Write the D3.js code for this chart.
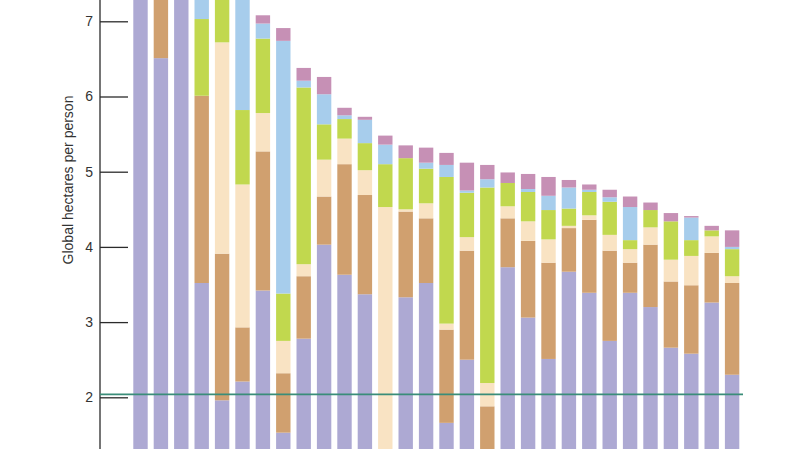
<!DOCTYPE html>
<html>
<head>
<meta charset="utf-8">
<script src="https://cdn.jsdelivr.net/npm/d3@7"></script>
<style>
  body { margin: 0; background: #fff; }
  svg { display: block; }
  text { font-family: "Liberation Sans", Arial, sans-serif; fill: #333; }
</style>
</head>
<body>
<div id="chart"></div>
<script>
var svgWidth = 800;
var svgHeight = 449;

// one entry per bar (labels are cut off in the picture)
var bars = d3.range(1, 31);

// thickness of each layer, bottom to top, in global hectares per person
var carbon   = [7.6, 6.51, 7.5, 3.52, 1.96, 2.21, 3.42, 1.53, 2.78, 4.03, 3.63, 3.37, 1.0, 3.33, 3.52,
                1.66, 2.50, 1.0, 3.73, 3.06, 2.51, 3.67, 3.39, 2.75, 3.39, 3.20, 2.66, 2.58, 3.26, 2.30];
var cropland = [0.5, 1.0, 0.4, 2.49, 1.95, 0.72, 1.85, 0.79, 0.83, 0.64, 1.47, 1.32, 0.2, 1.14, 0.86,
                1.24, 1.45, 0.88, 0.65, 1.02, 1.28, 0.58, 0.97, 1.20, 0.40, 0.83, 0.88, 0.91, 0.66, 1.22];
var grazing  = [0.3, 0.3, 0.2, 0.0, 2.81, 1.90, 0.51, 0.43, 0.16, 0.49, 0.34, 0.33, 3.33, 0.03, 0.20,
                0.08, 0.18, 0.31, 0.16, 0.26, 0.31, 0.03, 0.06, 0.21, 0.18, 0.23, 0.29, 0.39, 0.22, 0.09];
var forest   = [0.4, 0.4, 0.3, 1.02, 0.8, 0.99, 0.99, 0.63, 2.35, 0.47, 0.26, 0.36, 0.57, 0.68, 0.46,
                1.95, 0.59, 2.60, 0.31, 0.39, 0.39, 0.23, 0.31, 0.44, 0.12, 0.23, 0.51, 0.21, 0.08, 0.36];
var fishing  = [0.3, 0.3, 0.3, 0.5, 0.3, 1.7, 0.20, 3.36, 0.09, 0.40, 0.05, 0.31, 0.26, 0.0, 0.08,
                0.16, 0.03, 0.11, 0.0, 0.04, 0.19, 0.28, 0.03, 0.06, 0.44, 0.0, 0.0, 0.30, 0.0, 0.03];
var builtUp  = [0.3, 0.3, 0.2, 0.2, 0.2, 0.2, 0.11, 0.17, 0.17, 0.23, 0.10, 0.04, 0.12, 0.17, 0.20,
                0.16, 0.37, 0.19, 0.14, 0.20, 0.25, 0.10, 0.07, 0.10, 0.14, 0.10, 0.11, 0.02, 0.06, 0.22];

var yTicks = [2, 3, 4, 5, 6, 7];
var referenceLine = 2.04;

var keys = ["carbon", "cropland", "grazing", "forest", "fishing", "builtUp"];
var colors = {
  carbon: "#ada9d3",
  cropland: "#d0a06f",
  grazing: "#f9e3c3",
  forest: "#c1d84e",
  fishing: "#a7cdec",
  builtUp: "#c690b5"
};

// build the table d3.stack wants
var table = bars.map(function(b, i) {
  return {
    bar: b,
    carbon: carbon[i],
    cropland: cropland[i],
    grazing: grazing[i],
    forest: forest[i],
    fishing: fishing[i],
    builtUp: builtUp[i]
  };
});

var svg = d3.select("#chart")
  .append("svg")
  .attr("width", svgWidth)
  .attr("height", svgHeight);

var xBandScale = d3.scaleBand()
  .domain(bars)
  .range([130.3, 742.3])
  .paddingInner(0.294)
  .paddingOuter(0.147);

var yLinearScale = d3.scaleLinear()
  .domain([2, 7])
  .range([397.3, 21.3]);

var series = d3.stack().keys(keys)(table);

// stacked bars
svg.append("g")
  .selectAll("g")
  .data(series)
  .enter()
  .append("g")
  .attr("fill", d => colors[d.key])
  .selectAll("rect")
  .data(d => d)
  .enter()
  .append("rect")
  .attr("x", d => xBandScale(d.data.bar))
  .attr("y", d => yLinearScale(d[1]))
  .attr("width", xBandScale.bandwidth())
  .attr("height", d => Math.max(0, yLinearScale(d[0]) - yLinearScale(d[1])));

// left axis, ticks pointing into the plot
var leftAxis = d3.axisLeft(yLinearScale)
  .tickValues(yTicks)
  .tickSize(-28)
  .tickPadding(7)
  .tickFormat(d3.format("d"));

var axisGroup = svg.append("g")
  .attr("transform", "translate(100, 0)")
  .call(leftAxis);

axisGroup.select(".domain").remove();
axisGroup.selectAll(".tick line")
  .attr("stroke", "#2b2b2b")
  .attr("stroke-width", 1.3);
axisGroup.selectAll(".tick text")
  .attr("x", -7)
  .attr("font-size", 14)
  .attr("font-family", "Liberation Sans, Arial, sans-serif")
  .attr("fill", "#333");

svg.append("line")
  .attr("x1", 100)
  .attr("x2", 100)
  .attr("y1", 0)
  .attr("y2", svgHeight)
  .attr("stroke", "#2b2b2b")
  .attr("stroke-width", 1.3);

// reference line
svg.append("line")
  .attr("x1", 100)
  .attr("x2", 743)
  .attr("y1", yLinearScale(referenceLine))
  .attr("y2", yLinearScale(referenceLine))
  .attr("stroke", "#3a8d79")
  .attr("stroke-width", 1.8);

// axis label
svg.append("text")
  .attr("transform", "translate(73, 180) rotate(-90)")
  .attr("text-anchor", "middle")
  .attr("font-size", 14)
  .text("Global hectares per person");
</script>
</body>
</html>
